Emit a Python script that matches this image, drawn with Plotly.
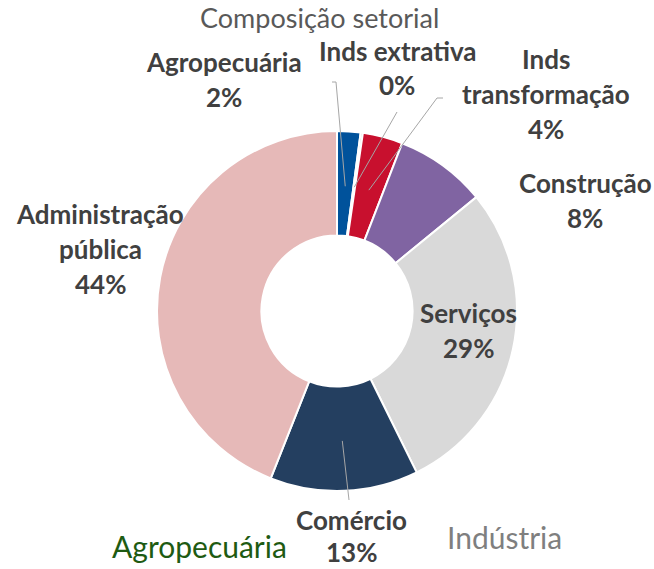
import math
import plotly.graph_objects as go

categories = ["Agropecuária", "Inds extrativa", "Inds transformação", "Construção",
              "Serviços", "Comércio", "Administração pública"]
values = [2.1, 0.2, 3.6, 8.2, 28.6, 13.3, 44.0]
colors = ["#00529B", "#A5A5A5", "#C8102E", "#8064A2", "#D9D9D9", "#243F60", "#E6B9B8"]
label_lines = [["Agropecuária"], ["Inds extrativa"], ["Inds", "transformação"], ["Construção"],
               ["Serviços"], ["Comércio"], ["Administração", "pública"]]
title_text = "Composição setorial"
bottom_texts = ["Agropecuária", "Indústria"]

W, H = 654, 569
CX, CY, R = 337, 311, 180
HOLE = 0.42

def px(x, y):
    return x / W, 1 - y / H

fig = go.Figure(go.Pie(
    labels=categories, values=values, sort=False, direction="clockwise", rotation=0,
    hole=HOLE, marker=dict(colors=colors, line=dict(color="white", width=2)),
    textinfo="none", hoverinfo="label+percent", showlegend=False,
    domain=dict(x=[(CX - R) / W, (CX + R) / W], y=[(H - CY - R) / H, (H - CY + R) / H]),
))

# label layout: center x, first line y, line step (pixels)
label_pos = [(224, 62, 35), (397, 51, 34), (546, 59, 35), (585, 183, 35),
             (468, 313, 35), (351, 520, 32), (100, 214, 35)]
FONT = "Lato"
annotations = []
total = sum(values)
for i, (lines, (lx, ly, step)) in enumerate(zip(label_lines, label_pos)):
    pct = f"{round(values[i] / total * 100)}%"
    for j, t in enumerate(lines + [pct]):
        x, y = px(lx, ly + j * step)
        annotations.append(dict(x=x, y=y, xref="paper", yref="paper", text=f"<b>{t}</b>",
                                showarrow=False, xanchor="center", yanchor="middle", borderpad=0,
                                font=dict(family=FONT, size=26, color="#404040")))

x, _ = px(319, 0)
annotations.append(dict(x=x, y=1, xref="paper", yref="paper", text=title_text, showarrow=False,
                        xanchor="center", yanchor="top", borderpad=0,
                        font=dict(family=FONT, size=27, color="#595959")))
x, y = px(199, 546)
annotations.append(dict(x=x, y=y, xref="paper", yref="paper", text=bottom_texts[0], showarrow=False,
                        xanchor="center", yanchor="middle",
                        font=dict(family=FONT, size=30, color="#1E5B12")))
x, y = px(504, 537)
annotations.append(dict(x=x, y=y, xref="paper", yref="paper", text=bottom_texts[1], showarrow=False,
                        xanchor="center", yanchor="middle",
                        font=dict(family=FONT, size=30, color="#7F7F7F")))

# leader lines from slice mid-angles
shapes = []
cum = 0
mids = []
for v in values:
    mids.append((cum + v / 2) / total * 360)
    cum += v
leader_ends = {0: [(336, 82), (332, 82)], 1: [(397, 112)], 2: [(437, 98), (443, 98)], 5: [(349, 500)]}
for i, pts in leader_ends.items():
    a = math.radians(mids[i])
    r = 125 if i != 5 else 130
    sx, sy = CX + r * math.sin(a), CY - r * math.cos(a)
    path_pts = [(sx, sy)] + pts
    p = "M " + " L ".join(f"{px(a_, b_)[0]},{px(a_, b_)[1]}" for a_, b_ in path_pts)
    shapes.append(dict(type="path", path=p, xref="paper", yref="paper",
                       line=dict(color="#A6A6A6", width=1)))

fig.update_layout(width=W, height=H, margin=dict(l=0, r=0, t=0, b=0),
                  paper_bgcolor="white", plot_bgcolor="white",
                  annotations=annotations, shapes=shapes)
fig.write_html("out.html", config={"displayModeBar": False},
               post_script="document.body.style.margin='0px';")
